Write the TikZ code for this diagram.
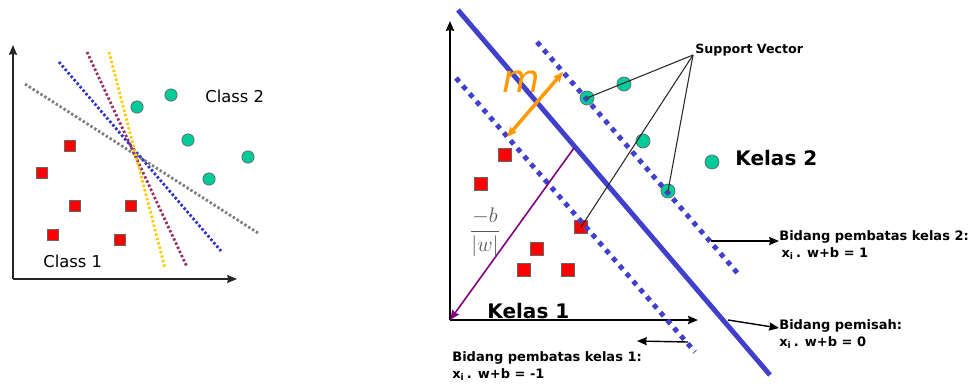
\documentclass[tikz,border=0pt]{standalone}
\usepackage{fontspec}
\setmainfont{DejaVu Sans}
\usetikzlibrary{arrows.meta}

\definecolor{svmGreen}{RGB}{0,204,153}
\definecolor{svmBlue}{RGB}{64,64,204}
\definecolor{svmOrange}{RGB}{255,153,0}
\definecolor{svmPurple}{RGB}{128,0,128}
\definecolor{guessGray}{RGB}{128,128,128}
\definecolor{guessBlue}{RGB}{51,51,204}
\definecolor{guessMaroon}{RGB}{153,51,102}
\definecolor{guessGold}{RGB}{255,204,0}

\begin{document}
\begin{tikzpicture}[
        >={Stealth[length=5.6pt, width=4.6pt, inset=0.6pt]},
        x=0.02cm, y=-0.02cm,
        every node/.style={inner sep=0pt},
        classOne/.style={rectangle, draw=black!60, fill=red, minimum size=6.4pt},
        classTwo/.style={circle, draw=black!60, fill=svmGreen, minimum size=7pt},
        guessLine/.style={dash pattern=on 1.4pt off 1.2pt, line width=1.6pt},
        marginLine/.style={svmBlue, dash pattern=on 2.8pt off 3.1pt, line width=2.8pt},
        hyperLine/.style={svmBlue, line width=2.8pt},
        axisLine/.style={->, black, line width=1pt},
        pointerLine/.style={->, black, line width=0.8pt},
        noteText/.style={anchor=west, align=left, font=\bfseries\fontsize{7.4}{9.6}\selectfont}
    ]
        \useasboundingbox (0,0) rectangle (971,383);

        % ---- left: many possible separating lines
        \coordinate (oL) at (13,279);
        \draw[axisLine, black!85, line width=0.8pt] (oL) -- (13,45);
        \draw[axisLine, black!85, line width=0.8pt] (oL) -- (237,279);

        \draw[guessLine, guessGray] (25,84) -- (258,233);
        \draw[guessLine, guessBlue] (59,62) -- (221,251);
        \draw[guessLine, guessMaroon] (87,52) -- (187,267);
        \draw[guessLine, guessGold] (109,52) -- (165,268);

        \foreach \p [count=\i] in {(137,107),(171,95),(188,140),(248,157),(209,179)}
            \node[classTwo] (lc\i) at \p {};
        \foreach \p [count=\i] in {(70,146),(42,173),(75,206),(131,206),(53,235),(120,240)}
            \node[classOne] (ls\i) at \p {};

        \node[anchor=west, font=\fontsize{9.3}{11}\selectfont] (lblTwo) at (205,96) {Class 2};
        \node[anchor=west, font=\fontsize{9.3}{11}\selectfont] (lblOne) at (43,261) {Class 1};

        % ---- right: optimal hyperplane with margin
        \coordinate (oR) at (450,320);
        \draw[axisLine, line width=1.1pt] (oR) -- (450,21);
        \draw[axisLine, line width=1.1pt] (oR) -- (698,320);

        \foreach \p [count=\i] in {(624,84),(587,98),(643,141),(668,191),(712,162)}
            \node[classTwo, minimum size=8pt] (rc\i) at \p {};
        \foreach \p [count=\i] in {(505,155),(481,184),(581,227),(537,249),(524,270),(568,270)}
            \node[classOne, minimum size=7.2pt] (rs\i) at \p {};

        \draw[hyperLine] (458,10) -- (770,375);
        \draw[marginLine] (537,42) -- (740,276);
        \draw[marginLine] (456,78) -- (695,352);

        % margin width m
        \draw[<->, svmOrange, line width=2pt] (507,137) -- (563,72);
        \node[svmOrange, font=\fontsize{22}{22}\selectfont\itshape] (mLbl) at (521,82) {m};

        % distance to origin
        \draw[->, svmPurple, line width=0.9pt] (574,148) -- (oR);
        \node[black!65, font=\large] (dist) at (485,232) {$\displaystyle\frac{-b}{|w|}$};

        % support vectors
        \node[anchor=west, font=\bfseries\fontsize{7.2}{9}\selectfont] (sv) at (695,50) {Support Vector};
        \coordinate (svp) at (693,55);
        \draw[black!85, line width=0.6pt] (svp) -- (rc2.center);
        \draw[black!85, line width=0.6pt] (svp) -- (rs3.center);
        \draw[black!85, line width=0.6pt] (svp) -- (rc4.center);
        \fill[black!70] (rc2.center) circle (0.9pt) (rc4.center) circle (0.9pt);

        \node[anchor=west, font=\bfseries\fontsize{11.4}{14}\selectfont] (kTwo) at (735,158) {Kelas 2};
        \node[anchor=west, font=\bfseries\fontsize{11.4}{14}\selectfont] (kOne) at (487,311) {Kelas 1};

        % plane notes
        \node[noteText] (nTwo) at (779,245) {Bidang pembatas kelas 2:\\ \,x\textsubscript{i}\,. w+b = 1};
        \coordinate (mTwo) at (711,241);
        \draw[pointerLine] (mTwo) -- (nTwo.west |- mTwo);

        \node[noteText] (nZero) at (779,334) {Bidang pemisah:\\x\textsubscript{i}\,. w+b = 0};
        \coordinate (mZero) at (728,320);
        \draw[pointerLine] (mZero) -- ([yshift=3.4pt]nZero.west);

        \node[noteText] (nOne) at (452,366) {Bidang pembatas kelas 1:\\x\textsubscript{i}\,. w+b = -1};
        \coordinate (mOne) at (688,342);
        \coordinate (tOne) at (637,341);
        \draw[pointerLine] (mOne) -- (tOne);

    \end{tikzpicture}
\end{document}
